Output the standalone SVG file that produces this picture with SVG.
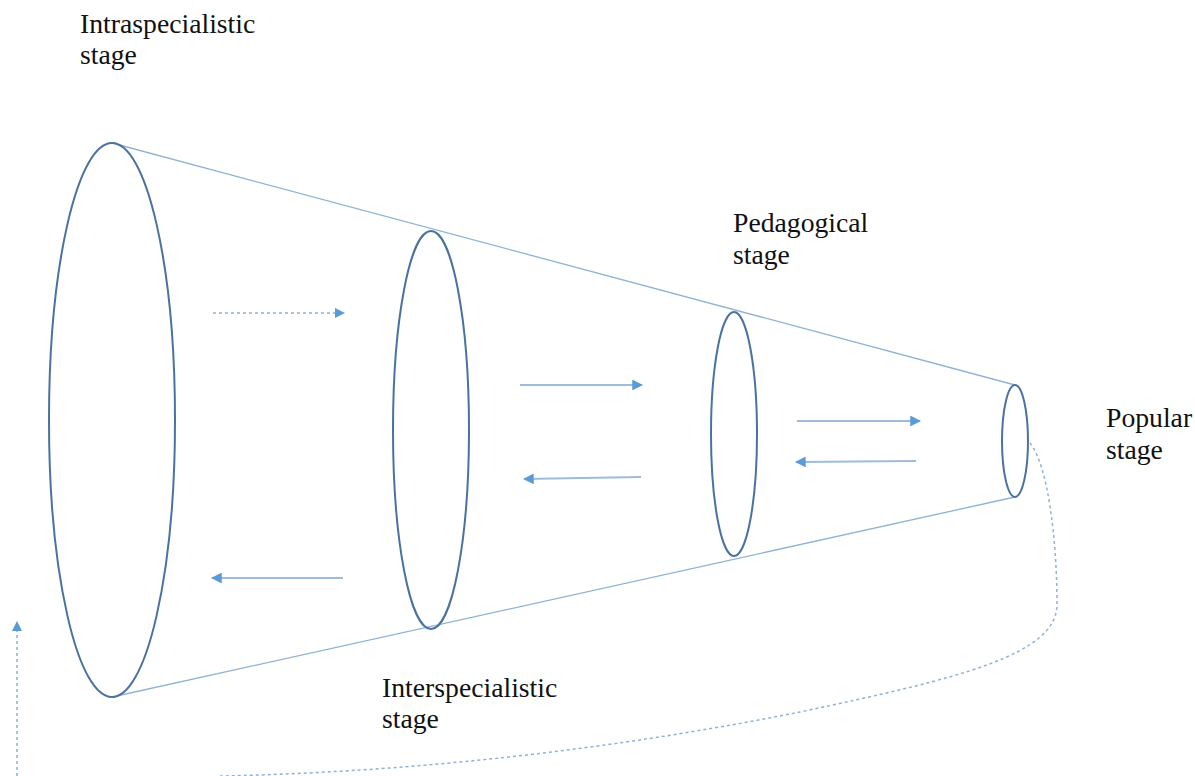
<svg xmlns="http://www.w3.org/2000/svg" width="1195" height="776" viewBox="0 0 1195 776">
<style>
.lbl{font-family:"Liberation Serif","Times New Roman",serif;font-size:27.7px;fill:#111}
.ring{fill:none;stroke:#4a72a0;stroke-width:2}
.cone{stroke:#8fb1d6;stroke-width:1.3;fill:none}
.arr{stroke:#9dbcdc;stroke-width:1.8;fill:none;marker-end:url(#ah)}
.dash{stroke:#8fb1d6;stroke-width:1.5;fill:none;stroke-dasharray:3 3}
</style>
<defs>
<marker id="ah" viewBox="0 0 10 10" refX="9" refY="5" markerWidth="6" markerHeight="6" orient="auto" markerUnits="strokeWidth">
<path d="M0,0 L10,5 L0,10 Z" fill="#5b9bd5"/>
</marker>
<marker id="ah2" viewBox="0 0 10 10" refX="9" refY="5" markerWidth="7" markerHeight="7" orient="auto" markerUnits="strokeWidth">
<path d="M0,0 L10,5 L0,10 Z" fill="#5b9bd5"/>
</marker>
</defs>
<g id="connectors">
<line class="cone" x1="112" y1="143" x2="1015" y2="385"/>
<line class="cone" x1="112" y1="697" x2="1015" y2="497"/>
<line class="dash" x1="213" y1="313" x2="344" y2="313" marker-end="url(#ah2)"/>
<line class="arr" x1="520" y1="385" x2="642" y2="385"/>
<line class="arr" x1="641" y1="477" x2="524" y2="479"/>
<line class="arr" x1="797" y1="421" x2="920" y2="421"/>
<line class="arr" x1="916" y1="461" x2="796" y2="462"/>
<line class="arr" x1="343" y1="578" x2="212" y2="578"/>
<line class="dash" x1="17" y1="776" x2="17" y2="622" marker-end="url(#ah2)"/>
<path class="dash" d="M1030,443 C1048,465 1057,540 1057,605 C1056,655 960,678 800,712 C620,748 420,772 220,776"/>
</g>
<g id="ring1"><ellipse class="ring" cx="112" cy="420" rx="63" ry="277"/></g>
<g id="ring2"><ellipse class="ring" cx="431" cy="430" rx="38" ry="199"/></g>
<g id="ring3"><ellipse class="ring" cx="734" cy="434" rx="23" ry="122"/></g>
<g id="ring4"><ellipse class="ring" cx="1015" cy="441" rx="13" ry="56"/></g>
<g id="intraspecialistic"><text class="lbl" x="80" y="33">Intraspecialistic</text><text class="lbl" x="80" y="64">stage</text></g>
<g id="pedagogical"><text class="lbl" x="733" y="232">Pedagogical</text><text class="lbl" x="733" y="264">stage</text></g>
<g id="popular"><text class="lbl" x="1106" y="427">Popular</text><text class="lbl" x="1106" y="459">stage</text></g>
<g id="interspecialistic"><text class="lbl" x="382" y="697">Interspecialistic</text><text class="lbl" x="382" y="728">stage</text></g>
</svg>
